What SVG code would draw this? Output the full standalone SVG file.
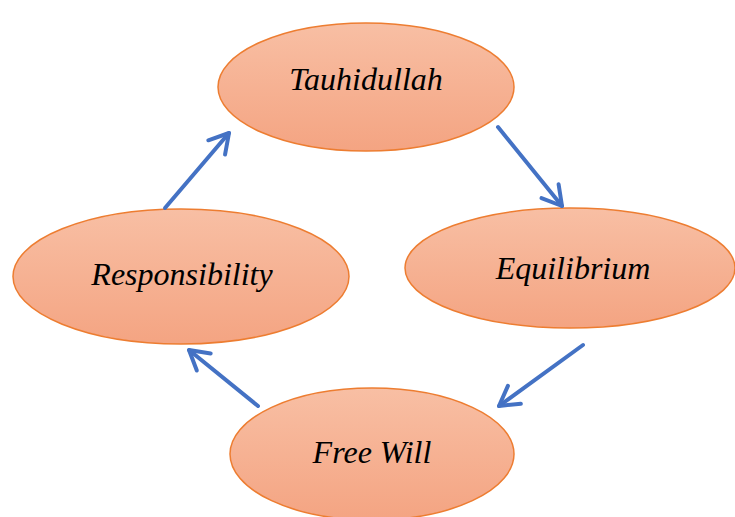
<svg xmlns="http://www.w3.org/2000/svg" width="735" height="517" viewBox="0 0 735 517">
<defs>
<linearGradient id="g" x1="0" y1="0" x2="0" y2="1">
<stop offset="0" stop-color="#F8BFA4"/>
<stop offset="1" stop-color="#F4A482"/>
</linearGradient>
<marker id="ah" markerUnits="userSpaceOnUse" markerWidth="30" markerHeight="30" viewBox="-25 -15 30 30" refX="0" refY="0" orient="auto">
<polyline points="-19,-11 0,0 -19,11" fill="none" stroke="#4472C4" stroke-width="4" stroke-linecap="round" stroke-linejoin="round"/>
</marker>
<style>
.n ellipse{fill:url(#g);stroke:#ED7D31;stroke-width:1.5}
.n text{font-family:"Liberation Serif",serif;font-style:italic;font-size:32px;fill:#000;text-anchor:middle}
.c line{stroke:#4472C4;stroke-width:4;stroke-linecap:round;marker-end:url(#ah)}
</style>
</defs>
<rect width="735" height="517" fill="#fff"/>
<g id="tauhidullah" class="n"><ellipse cx="366" cy="87" rx="148" ry="64"/><text x="366" y="90">Tauhidullah</text></g>
<g id="equilibrium" class="n"><ellipse cx="570" cy="268" rx="165" ry="60"/><text x="573" y="279">Equilibrium</text></g>
<g id="responsibility" class="n"><ellipse cx="181" cy="276.5" rx="168" ry="67.5"/><text x="182" y="285">Responsibility</text></g>
<g id="freewill" class="n"><ellipse cx="372" cy="454" rx="142" ry="66"/><text x="372" y="463">Free Will</text></g>
<g id="connectors" class="c">
<line x1="165" y1="208" x2="229" y2="133"/>
<line x1="498" y1="127" x2="562" y2="206"/>
<line x1="583" y1="345" x2="499" y2="406"/>
<line x1="258" y1="406" x2="189" y2="350"/>
</g>
</svg>
